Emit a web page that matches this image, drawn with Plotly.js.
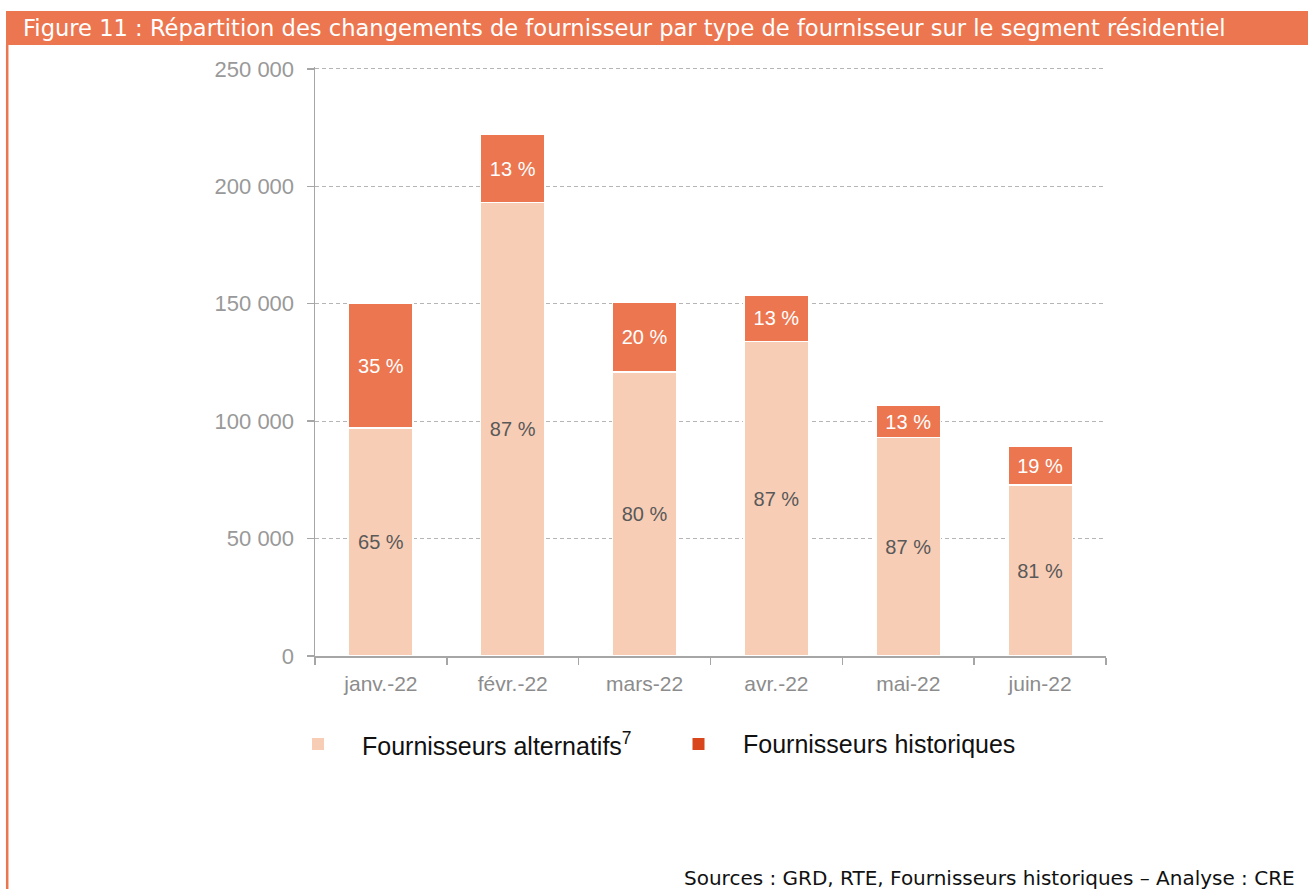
<!DOCTYPE html>
<html>
<head>
<meta charset="utf-8">
<script src="https://cdn.plot.ly/plotly-3.0.1.min.js"></script>
<style>
  html, body { margin: 0; padding: 0; background: #ffffff; }
  #chart { width: 1308px; height: 889px; }
</style>
</head>
<body>
<div id="chart"></div>
<script>
// ---- Data ----
const months = ["janv.-22", "févr.-22", "mars-22", "avr.-22", "mai-22", "juin-22"];
const alternatifs = [97000, 193000, 121000, 134000, 93000, 72800];
const historiques = [53000, 29000, 29700, 19800, 13600, 16600];
const pctAlternatifs = [65, 87, 80, 87, 87, 81];
const pctHistoriques = [35, 13, 20, 13, 13, 19];
const yTicks = [0, 50000, 100000, 150000, 200000, 250000];
const seriesNames = ["Fournisseurs alternatifs<sup>7</sup>", "Fournisseurs historiques"];
const titleText = "Figure 11 : Répartition des changements de fournisseur par type de fournisseur sur le segment résidentiel";
const sourceText = "Sources : GRD, RTE, Fournisseurs historiques – Analyse : CRE";

// ---- Layout geometry ----
const W = 1308, H = 889;
const M = { l: 315, r: 202, t: 67, b: 233 };
const PW = W - M.l - M.r, PH = H - M.t - M.b;
const px2x = px => (px - M.l) / PW;
const py2y = py => (H - M.b - py) / PH;

const cAlt = "#F8CDB6";
const cHist = "#EC7650";
const cHistLegend = "#D9461C";
const cFrame = "#EC7650";

const traces = [
  {
    type: "bar", name: seriesNames[0], x: months, y: alternatifs,
    text: pctAlternatifs.map(p => p + " %"),
    textposition: "inside", insidetextanchor: "middle", textangle: 0,
    textfont: { family: "Liberation Sans, Arial, sans-serif", size: 20, color: "#595959" },
    marker: { color: cAlt, line: { color: "#ffffff", width: 1.5 } },
    width: 0.49, hoverinfo: "skip", showlegend: false
  },
  {
    type: "bar", name: seriesNames[1], x: months, y: historiques,
    text: pctHistoriques.map(p => p + " %"),
    textposition: "inside", insidetextanchor: "middle", textangle: 0,
    textfont: { family: "Liberation Sans, Arial, sans-serif", size: 20, color: "#ffffff" },
    marker: { color: cHist, line: { color: "#ffffff", width: 1.5 } },
    width: 0.49, hoverinfo: "skip", showlegend: false
  }
];

const legendItems = [
  { sq: 318, tx: 360, color: cAlt, label: seriesNames[0] },
  { sq: 698.5, tx: 741, color: cHistLegend, label: seriesNames[1] }
];
const legY = 744;

const shapes = [
  // title band
  { type: "rect", xref: "paper", yref: "paper", x0: px2x(6), x1: px2x(W + 2), y0: py2y(45), y1: py2y(11),
    fillcolor: cFrame, line: { width: 0 }, layer: "below" },
  // left frame line
  { type: "line", xref: "paper", yref: "paper", x0: px2x(7.2), x1: px2x(7.2), y0: py2y(45), y1: py2y(H + 2),
    line: { color: cFrame, width: 2.5 } }
];
legendItems.forEach(it => {
  shapes.push({ type: "rect", xref: "paper", yref: "paper",
    x0: px2x(it.sq - 6), x1: px2x(it.sq + 6), y0: py2y(legY + 6), y1: py2y(legY - 6),
    fillcolor: it.color, line: { width: 0 } });
});

const annotations = legendItems.map(it => ({
  xref: "paper", yref: "paper", x: px2x(it.tx), y: py2y(legY),
  xanchor: "left", yanchor: "middle", showarrow: false, text: it.label,
  font: { family: "Liberation Sans, Arial, sans-serif", size: 25, color: "#111111" }
}));
annotations.push({
  xref: "paper", yref: "paper", x: px2x(1297), y: py2y(878),
  xanchor: "right", yanchor: "middle", showarrow: false, text: sourceText,
  font: { family: "DejaVu Sans, sans-serif", size: 20, color: "#111111" }
});

const layout = {
  width: W, height: H,
  margin: M,
  paper_bgcolor: "#ffffff", plot_bgcolor: "#ffffff",
  barmode: "stack",
  separators: ", ",
  showlegend: false,
  title: {
    text: titleText, xref: "container", yref: "container",
    x: 23 / W, xanchor: "left", y: 1 - 28.5 / H, yanchor: "middle",
    font: { family: "DejaVu Sans, sans-serif", size: 22.6, color: "#ffffff" }
  },
  xaxis: {
    type: "category", range: [-0.5, 5.5],
    showline: true, linecolor: "#a6a6a6", linewidth: 1.5,
    ticks: "outside", tickson: "boundaries", ticklen: 7, tickcolor: "#a6a6a6", tickwidth: 1.5,
    ticklabelstandoff: 8,
    showgrid: false, zeroline: false,
    tickfont: { family: "Liberation Sans, Arial, sans-serif", size: 21, color: "#8c8c8c" }
  },
  yaxis: {
    range: [0, 250800], tickvals: yTicks, tickformat: ",d",
    showline: true, linecolor: "#a6a6a6", linewidth: 1.5,
    ticks: "outside", ticklen: 7, tickcolor: "#a6a6a6", tickwidth: 1.5,
    ticklabelstandoff: 8,
    showgrid: true, gridcolor: "#b5b5b5", gridwidth: 1, griddash: "4px,3px",
    zeroline: false,
    tickfont: { family: "Liberation Sans, Arial, sans-serif", size: 22, color: "#999999" }
  },
  uniformtext: { minsize: 20, mode: "show" },
  shapes: shapes,
  annotations: annotations
};

Plotly.newPlot("chart", traces, layout, { staticPlot: true, displayModeBar: false });
</script>
</body>
</html>
